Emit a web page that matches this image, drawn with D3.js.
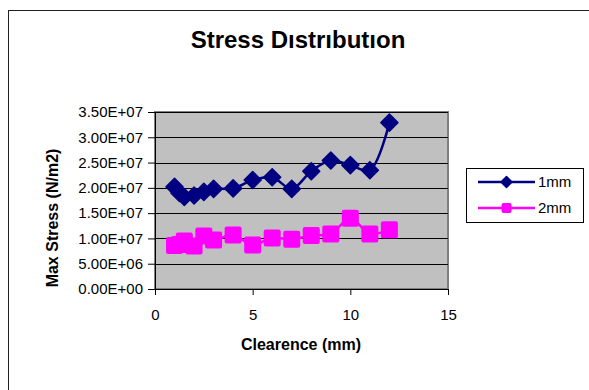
<!DOCTYPE html>
<html>
<head>
<meta charset="utf-8">
<script src="https://cdn.jsdelivr.net/npm/d3@7"></script>
<style>
  body { margin: 0; background: #fff; }
  text { font-family: Arial, "Liberation Sans", sans-serif; }
</style>
</head>
<body>
<div id="chart"></div>
<script>
// valores
const clearance = [1, 1.25, 1.5, 2, 2.5, 3, 4, 5, 6, 7, 8, 9, 10, 11, 12];
const stress1mm = [2.02e7, 1.90e7, 1.82e7, 1.85e7, 1.92e7, 1.98e7, 1.99e7, 2.155e7, 2.21e7, 1.98e7, 2.33e7, 2.54e7, 2.45e7, 2.35e7, 3.29e7];
const stress2mm = [8.6e6, 8.8e6, 9.5e6, 8.5e6, 1.05e7, 9.7e6, 1.07e7, 8.7e6, 1.01e7, 9.85e6, 1.06e7, 1.09e7, 1.40e7, 1.09e7, 1.17e7];
const seriesNames = ["1mm", "2mm"];
const xTicks = [0, 5, 10, 15];
const yTicks = [0, 5e6, 1e7, 1.5e7, 2e7, 2.5e7, 3e7, 3.5e7];

const width = 589, height = 390;
const plot = { left: 155, right: 448, top: 112, bottom: 289 };

const svg = d3.select("#chart").append("svg")
    .attr("width", width)
    .attr("height", height);

// borde exterior del grafico
svg.append("rect")
    .attr("x", 8.5).attr("y", 10.5)
    .attr("width", 620).attr("height", 420)
    .attr("fill", "#fff")
    .attr("stroke", "#222")
    .attr("stroke-width", 1);

const x = d3.scaleLinear().domain([0, 15]).range([plot.left, plot.right]);
const y = d3.scaleLinear().domain([0, 3.5e7]).range([plot.bottom, plot.top]);

// area de trazado
svg.append("rect")
    .attr("x", plot.left).attr("y", plot.top)
    .attr("width", plot.right - plot.left)
    .attr("height", plot.bottom - plot.top)
    .attr("fill", "#c0c0c0")
    .attr("stroke", "#808080")
    .attr("stroke-width", 2);

// lineas de cuadricula
svg.append("g")
    .selectAll("line")
    .data(yTicks.slice(1))
    .enter().append("line")
    .attr("x1", plot.left).attr("x2", plot.right)
    .attr("y1", d => Math.round(y(d)) + 0.5)
    .attr("y2", d => Math.round(y(d)) + 0.5)
    .attr("stroke", "#000")
    .attr("stroke-width", 1);

// ejes
const yAxis = svg.append("g")
    .attr("transform", `translate(${plot.left},0)`)
    .call(d3.axisLeft(y).tickValues(yTicks).tickSize(7).tickPadding(5)
        .tickFormat(d => {
            const s = d.toExponential(2).toUpperCase();
            return s.replace(/E([+-])(\d)$/, "E$10$2");
        }));
yAxis.select(".domain").attr("stroke", "#000").attr("stroke-width", 1);
yAxis.selectAll("text").attr("font-size", 15).attr("fill", "#000")
    .style("font-family", "Arial, 'Liberation Sans', sans-serif");

const xAxis = svg.append("g")
    .attr("transform", `translate(0,${plot.bottom})`)
    .call(d3.axisBottom(x).tickValues(xTicks).tickSize(6).tickPadding(14));
xAxis.select(".domain").attr("stroke", "#000").attr("stroke-width", 1);
xAxis.selectAll("text").attr("font-size", 15).attr("fill", "#000")
    .style("font-family", "Arial, 'Liberation Sans', sans-serif");

// titulos
svg.append("text")
    .attr("x", 298).attr("y", 48)
    .attr("text-anchor", "middle")
    .attr("font-size", 24).attr("font-weight", "bold")
    .text("Stress Dıstrıbutıon");

svg.append("text")
    .attr("x", 301).attr("y", 350)
    .attr("text-anchor", "middle")
    .attr("font-size", 16).attr("font-weight", "bold")
    .text("Clearence (mm)");

svg.append("text")
    .attr("transform", "translate(58,218) rotate(-90)")
    .attr("text-anchor", "middle")
    .attr("font-size", 16).attr("font-weight", "bold")
    .text("Max Stress (N/m2)");

// series
const series = [
    { name: seriesNames[0], values: stress1mm, color: "#000080", marker: "diamond" },
    { name: seriesNames[1], values: stress2mm, color: "#ff00ff", marker: "square" }
];

const line = d3.line()
    .x(d => x(d[0]))
    .y(d => y(d[1]))
    .curve(d3.curveCatmullRom.alpha(0.5));

function drawMarker(g, type, color, size) {
    if (type === "diamond") {
        const h = size / 2;
        g.append("path")
            .attr("d", `M0,${-h}L${h},0L0,${h}L${-h},0Z`)
            .attr("fill", color)
            .attr("stroke", color)
            .attr("stroke-width", 1.5)
            .attr("stroke-linejoin", "round");
    } else {
        const h = size / 2;
        g.append("rect")
            .attr("x", -h).attr("y", -h)
            .attr("width", size).attr("height", size)
            .attr("rx", 2)
            .attr("fill", color);
    }
}

series.forEach(s => {
    const pts = clearance.map((c, i) => [c, s.values[i]]);
    svg.append("path")
        .datum(pts)
        .attr("d", line)
        .attr("fill", "none")
        .attr("stroke", s.color)
        .attr("stroke-width", 2.5);

    pts.forEach(p => {
        const g = svg.append("g").attr("transform", `translate(${x(p[0])},${y(p[1])})`);
        drawMarker(g, s.marker, s.color, s.marker === "diamond" ? 17 : 17);
    });
});

// leyenda
const legend = svg.append("g");
legend.append("rect")
    .attr("x", 466.5).attr("y", 168.5)
    .attr("width", 117).attr("height", 54)
    .attr("fill", "#fff")
    .attr("stroke", "#000")
    .attr("stroke-width", 1);

series.forEach((s, i) => {
    const ly = 182 + i * 26;
    legend.append("line")
        .attr("x1", 478).attr("x2", 535)
        .attr("y1", ly).attr("y2", ly)
        .attr("stroke", s.color)
        .attr("stroke-width", 2.5);
    const g = legend.append("g").attr("transform", `translate(506.5,${ly})`);
    drawMarker(g, s.marker, s.color, s.marker === "diamond" ? 11 : 10);
    legend.append("text")
        .attr("x", 538).attr("y", ly + 5)
        .attr("font-size", 15)
        .text(s.name);
});
</script>
</body>
</html>
